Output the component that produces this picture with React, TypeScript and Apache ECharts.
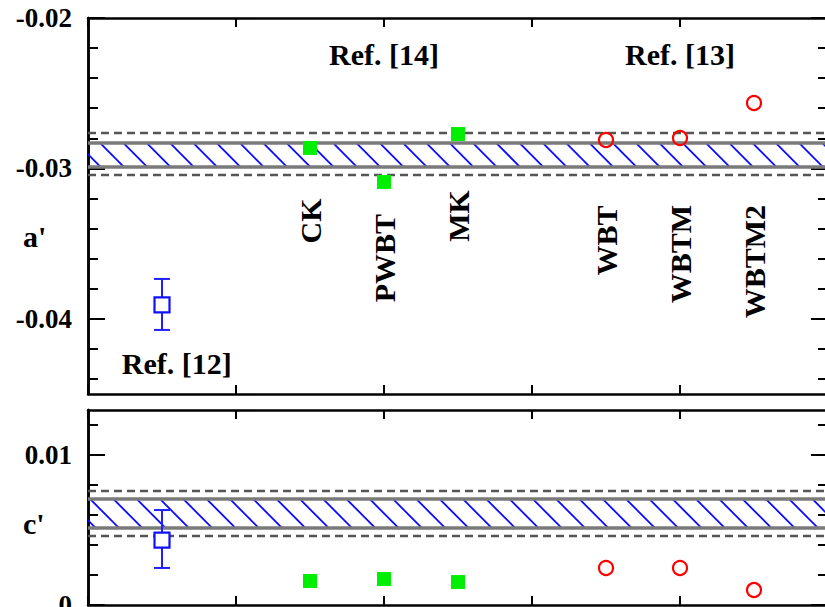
import React, { useEffect, useRef } from 'react';
import * as echarts from 'echarts';

// ---------- data ----------
const models14 = ['CK', 'PWBT', 'MK'];
const models13 = ['WBT', 'WBTM', 'WBTM2'];
const xRef12 = 0.5;
const x14 = [1.5, 2, 2.5];
const x13 = [3.5, 4, 4.5];
const aRef14 = [-0.02864, -0.0309, -0.02771];
const aRef13 = [-0.02811, -0.02798, -0.02565];
const cRef14 = [0.0016, 0.00173, 0.00153];
const cRef13 = [0.00247, 0.00247, 0.001];
const aRef12 = -0.03908;
const aRef12Err = [-0.04074, -0.03735];
const cRef12 = 0.00433;
const cRef12Err = [0.00247, 0.00633];
const aBand = [-0.02991, -0.02831];
const aBandOuter = [-0.03044, -0.02765];
const cBand = [0.00513, 0.00707];
const cBandOuter = [0.0046, 0.0076];
const aMajorTicks = [-0.04, -0.03, -0.02];
const aMinorTicks = [-0.044, -0.042, -0.038, -0.036, -0.034, -0.032, -0.028, -0.026, -0.024, -0.022];
const cMajorTicks = [0, 0.01];
const cMinorTicks = [0.002, 0.004, 0.006, 0.008, 0.012];
const refLabels = ['Ref. [12]', 'Ref. [14]', 'Ref. [13]'];

// ---------- layout (label anchors in data coords) ----------
const refLabelPos = [[0.6, -0.04294], [2.0, -0.02246], [4.0, -0.02246]];
const model14LabelY = [-0.0335, -0.03596, -0.03316];
const model13LabelY = [-0.0348, -0.0357, -0.0362];

const FONT = '"Liberation Serif", "Times New Roman", serif';

function xAx(gridIndex: number, position: string) {
  return {
    type: 'value', gridIndex, position, min: 0, max: 5, interval: 1,
    axisLine: { show: true, onZero: false, lineStyle: { color: '#000', width: 2.5 } },
    axisTick: { show: true, inside: true, length: 9, lineStyle: { color: '#000', width: 2 } },
    axisLabel: { show: false }, splitLine: { show: false },
  };
}

function yAx(gridIndex: number, position: string, min: number, max: number, values: number[], len: number, labels: boolean) {
  return {
    type: 'value', gridIndex, position, min, max,
    axisLine: { show: true, onZero: false, lineStyle: { color: '#000', width: 2.5 } },
    axisTick: { show: true, inside: true, length: len, customValues: values, lineStyle: { color: '#000', width: 2 } },
    axisLabel: labels
      ? {
          show: true, customValues: values, margin: 16, fontSize: 27, fontWeight: 'bold',
          fontFamily: FONT, color: '#000',
          formatter: (v: number) => (Math.abs(v) < 1e-12 ? '0' : v.toFixed(2)),
        }
      : { show: false },
    splitLine: { show: false },
  };
}

function hatch(xi: number, yi: number, band: number[], phase: number) {
  return {
    type: 'custom', xAxisIndex: xi, yAxisIndex: yi, clip: true, silent: true, z: 2,
    data: [[0, band[0], band[1]]],
    renderItem: (params: any, api: any) => {
      const cs = params.coordSys;
      const top = api.coord([0, api.value(2)])[1];
      const bot = api.coord([0, api.value(1)])[1];
      const h = bot - top;
      const step = 23.3;
      const children: any[] = [];
      let start = cs.x + phase;
      while (start > cs.x - h) start -= step;
      for (let x = start; x < cs.x + cs.width; x += step) {
        children.push({ type: 'line', shape: { x1: x, y1: top, x2: x + h, y2: bot }, style: { stroke: '#0a0aff', lineWidth: 1.8 } });
      }
      return { type: 'group', children };
    },
  };
}

function hLine(xi: number, yi: number, v: number, dashed: boolean) {
  return {
    type: 'line', xAxisIndex: xi, yAxisIndex: yi, silent: true, z: 3, showSymbol: false, symbol: 'none',
    data: [[0, v], [5, v]],
    lineStyle: dashed ? { color: '#555', width: 2.5, type: [8, 5], opacity: 1 } : { color: '#7a7a7a', width: 3.5, type: 'solid', opacity: 1 },
  };
}

function errBar(xi: number, yi: number, x: number, err: number[]) {
  return {
    type: 'custom', xAxisIndex: xi, yAxisIndex: yi, z: 4, silent: true,
    data: [[x, err[0], err[1]]],
    renderItem: (params: any, api: any) => {
      const lo = api.coord([api.value(0), api.value(1)]);
      const hi = api.coord([api.value(0), api.value(2)]);
      const w = 8;
      const st = { stroke: '#1f1fff', lineWidth: 2 };
      return {
        type: 'group',
        children: [
          { type: 'line', shape: { x1: lo[0], y1: lo[1], x2: hi[0], y2: hi[1] }, style: st },
          { type: 'line', shape: { x1: lo[0] - w, y1: lo[1], x2: lo[0] + w, y2: lo[1] }, style: st },
          { type: 'line', shape: { x1: hi[0] - w, y1: hi[1], x2: hi[0] + w, y2: hi[1] }, style: st },
        ],
      };
    },
  };
}

function scatter(xi: number, yi: number, xs: number[], ys: number[], kind: string) {
  const style =
    kind === 'green'
      ? { symbol: 'rect', symbolSize: 14, itemStyle: { color: '#00ee00', opacity: 1 } }
      : kind === 'red'
      ? { symbol: 'circle', symbolSize: 14, itemStyle: { color: 'rgba(255,255,255,0)', borderColor: '#ff0000', borderWidth: 2.2, opacity: 1 } }
      : { symbol: 'rect', symbolSize: 15, itemStyle: { color: '#ffffff', borderColor: '#1010ff', borderWidth: 2.2, opacity: 1 } };
  return {
    type: 'scatter', xAxisIndex: xi, yAxisIndex: yi, z: 5, silent: true,
    data: xs.map((x, i) => [x, ys[i]]),
    ...style,
  };
}

function labels(xi: number, yi: number, items: { x: number; y: number; text: string; rotate: number }[]) {
  return {
    type: 'scatter', xAxisIndex: xi, yAxisIndex: yi, symbolSize: 1, silent: true, z: 6,
    itemStyle: { color: 'rgba(0,0,0,0)', opacity: 1 },
    data: items.map((it) => ({ value: [it.x, it.y], name: it.text, label: { rotate: it.rotate } })),
    label: {
      show: true, position: 'inside', formatter: '{b}', fontSize: 30, fontWeight: 'bold',
      fontFamily: FONT, color: '#000', opacity: 1,
    },
  };
}

export default function App() {
  const ref = useRef<HTMLDivElement>(null);
  useEffect(() => {
    document.body.style.margin = '0';
    const chart = echarts.init(ref.current!, undefined, { renderer: 'svg' });
    const labelItemsTop = [
      { x: refLabelPos[0][0], y: refLabelPos[0][1], text: refLabels[0], rotate: 0 },
      { x: refLabelPos[1][0], y: refLabelPos[1][1], text: refLabels[1], rotate: 0 },
      { x: refLabelPos[2][0], y: refLabelPos[2][1], text: refLabels[2], rotate: 0 },
      ...models14.map((m, i) => ({ x: x14[i], y: model14LabelY[i], text: m, rotate: 90 })),
      ...models13.map((m, i) => ({ x: x13[i], y: model13LabelY[i], text: m, rotate: 90 })),
    ];
    const option: any = {
      animation: false,
      backgroundColor: '#fff',
      grid: [
        { left: 88, top: 18, width: 740, height: 376, containLabel: false, outerBoundsMode: 'none' },
        { left: 88, top: 410, width: 740, height: 195, containLabel: false, outerBoundsMode: 'none' },
      ],
      xAxis: [xAx(0, 'bottom'), xAx(0, 'top'), xAx(1, 'bottom'), xAx(1, 'top')],
      yAxis: [
        yAx(0, 'left', -0.045, -0.02, aMajorTicks, 17, true),
        yAx(0, 'left', -0.045, -0.02, aMinorTicks, 10, false),
        yAx(0, 'right', -0.045, -0.02, aMajorTicks, 17, false),
        yAx(0, 'right', -0.045, -0.02, aMinorTicks, 10, false),
        yAx(1, 'left', 0, 0.013, cMajorTicks, 17, true),
        yAx(1, 'left', 0, 0.013, cMinorTicks, 10, false),
        yAx(1, 'right', 0, 0.013, cMajorTicks, 17, false),
        yAx(1, 'right', 0, 0.013, cMinorTicks, 10, false),
      ],
      graphic: [
        { type: 'text', left: 23, top: 221, style: { text: "a'", fontSize: 30, fontWeight: 'bold', fontFamily: FONT, fill: '#000' } },
        { type: 'text', left: 23, top: 508, style: { text: "c'", fontSize: 30, fontWeight: 'bold', fontFamily: FONT, fill: '#000' } },
      ],
      series: [
        hatch(0, 0, aBand, 12),
        hLine(0, 0, aBand[0], false),
        hLine(0, 0, aBand[1], false),
        hLine(0, 0, aBandOuter[0], true),
        hLine(0, 0, aBandOuter[1], true),
        errBar(0, 0, xRef12, aRef12Err),
        scatter(0, 0, [xRef12], [aRef12], 'blue'),
        scatter(0, 0, x14, aRef14, 'green'),
        scatter(0, 0, x13, aRef13, 'red'),
        labels(0, 0, labelItemsTop),

        hatch(2, 4, cBand, 2),
        hLine(2, 4, cBand[0], false),
        hLine(2, 4, cBand[1], false),
        hLine(2, 4, cBandOuter[0], true),
        hLine(2, 4, cBandOuter[1], true),
        errBar(2, 4, xRef12, cRef12Err),
        scatter(2, 4, [xRef12], [cRef12], 'blue'),
        scatter(2, 4, x14, cRef14, 'green'),
        scatter(2, 4, x13, cRef13, 'red'),
      ],
    };
    chart.setOption(option);
    return () => chart.dispose();
  }, []);
  return <div ref={ref} style={{ width: 825, height: 607 }} />;
}
